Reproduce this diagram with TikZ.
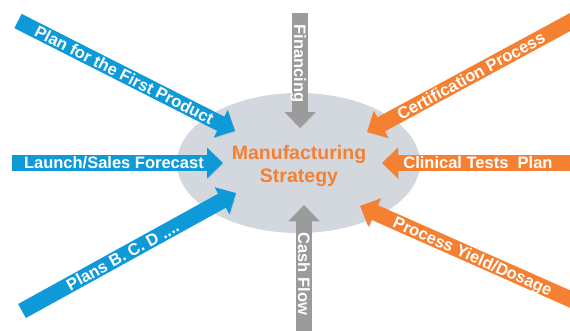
\documentclass[tikz,border=0pt]{standalone}
\usepackage{fontspec}
\setmainfont{Liberation Sans}
\usetikzlibrary{arrows.meta}

\definecolor{inblue}{RGB}{14,154,216}
\definecolor{inorange}{RGB}{246,128,50}
\definecolor{ingrey}{RGB}{155,155,155}
\definecolor{hubfill}{RGB}{211,216,222}

\begin{document}
\begin{tikzpicture}[x=1pt,y=-1pt,
  blockarrow/.style={line width=16pt,
    -{Triangle[width=30pt,length=16pt]},
    preaction={draw=black!22,
      transform canvas={xshift=0.9pt,yshift=-0.9pt}}},
  bluearrow/.style={blockarrow,draw=inblue,color=inblue},
  orangearrow/.style={blockarrow,draw=inorange,color=inorange},
  greyarrow/.style={blockarrow,draw=ingrey,color=ingrey},
  lbl/.style={text=white,inner sep=0pt,text height=11.8pt,text depth=0pt,
    font=\bfseries\fontsize{16.5}{19}\selectfont},
  hub/.style={fill=hubfill,draw=none},
  hubtext/.style={text=inorange,align=center,inner sep=0pt,
    font=\bfseries\fontsize{19.5}{23}\selectfont}
]
\clip (0,0) rectangle (570,330);
\useasboundingbox (0,0) rectangle (570,330);

% central ellipse
\fill[hub] (298.5,163) ellipse [x radius=121.5, y radius=70];
\node[hubtext,anchor=north] (strategy) at (299,145.5)
  {Manufacturing\\Strategy};

% end points of the incoming arrows
\coordinate (tFirst)  at (18,21);   \coordinate (hFirst)  at (235,131);
\coordinate (tLaunch) at (12,163);  \coordinate (hLaunch) at (223,163);
\coordinate (tPlans)  at (22,311);  \coordinate (hPlans)  at (236,193);
\coordinate (tFin)    at (300,13);  \coordinate (hFin)    at (300,128);
\coordinate (tCash)   at (304,340); \coordinate (hCash)   at (304,205);
\coordinate (tCert)   at (596,8);   \coordinate (hCert)   at (367,132);
\coordinate (tClin)   at (600,163); \coordinate (hClin)   at (382,163);
\coordinate (tYield)  at (588,307); \coordinate (hYield)  at (360,206);

% blue inputs (left)
\draw[bluearrow] (tFirst) -- node[lbl,sloped,pos=0.49] (lFirst)
  {Plan for the First Product} (hFirst);
\draw[bluearrow] (tLaunch) -- node[lbl,sloped,pos=0.483] (lLaunch)
  {Launch/Sales Forecast} (hLaunch);
\draw[bluearrow] (tPlans) -- node[lbl,sloped,pos=0.47] (lPlans)
  {Plans B. C. D ....} (hPlans);

% grey inputs (top and bottom)
\draw[greyarrow] (tFin) -- node[lbl,rotate=-90,pos=0.44] (lFin)
  {Financing} (hFin);
\draw[greyarrow] (tCash) -- node[lbl,rotate=-90,pos=0.49] (lCash)
  {Cash Flow} (hCash);

% orange inputs (right)
\draw[orangearrow] (tCert) -- node[lbl,sloped,pos=0.546] (lCert)
  {Certification Process} (hCert);
\draw[orangearrow] (tClin) -- node[lbl,sloped,pos=0.56] (lClin)
  {Clinical Tests\ \ Plan} (hClin);
\draw[orangearrow] (tYield) -- node[lbl,sloped,pos=0.505] (lYield)
  {Process Yield/Dosage} (hYield);
\end{tikzpicture}
\end{document}
